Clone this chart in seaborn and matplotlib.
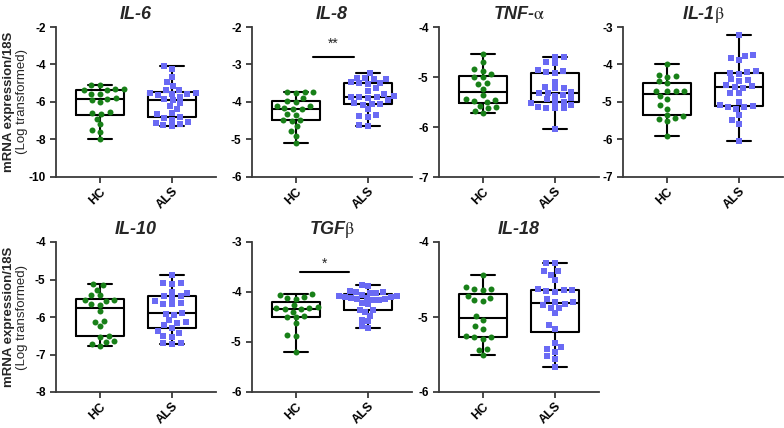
"""Cytokine mRNA expression in HC vs ALS: box plots with individual points."""
import matplotlib
matplotlib.use("Agg")
import matplotlib.pyplot as plt
import numpy as np
import pandas as pd
import seaborn as sns

sns.set_style("ticks")
plt.rcParams["font.family"] = ["Liberation Sans", "DejaVu Sans"]
plt.rcParams["axes.unicode_minus"] = False
plt.rcParams["mathtext.fontset"] = "stix"

GROUPS = ["HC", "ALS"]
HC_COLOR = "#188018"
ALS_COLOR = "#6a6af4"

# log-transformed mRNA expression / 18S
il6_hc = [-5.08, -5.12, -5.3, -5.32, -5.35, -5.38, -5.55, -5.58, -5.8, -5.85,
          -5.88, -6.02, -6.52, -6.58, -6.62, -6.9, -7.2, -7.5, -7.62, -8.0]
il6_als = [-4.1, -4.22, -4.65, -4.92, -5.15, -5.35, -5.38, -5.5, -5.52, -5.55,
           -5.58, -5.62, -5.72, -5.85, -5.9, -6.05, -6.2, -6.35, -6.6, -6.65,
           -6.8, -6.85, -6.95, -7.05, -7.1, -7.2, -7.25, -7.3]

il8_hc = [-3.73, -3.73, -3.74, -3.75, -3.9, -3.98, -4.0, -4.1, -4.12, -4.17,
          -4.19, -4.2, -4.33, -4.35, -4.47, -4.49, -4.52, -4.65, -4.77, -4.9, -5.09]
il8_als = [-3.24, -3.35, -3.37, -3.38, -3.4, -3.48, -3.5, -3.5, -3.52, -3.64,
           -3.7, -3.78, -3.85, -3.86, -3.88, -3.88, -3.9, -3.96, -4.03, -4.05,
           -4.05, -4.07, -4.2, -4.34, -4.38, -4.4, -4.62, -4.65]

tnf_hc = [-4.53, -4.69, -4.84, -4.87, -4.94, -5.0, -5.0, -5.12, -5.13, -5.23,
          -5.35, -5.44, -5.46, -5.48, -5.5, -5.57, -5.6, -5.62, -5.68, -5.72]
tnf_als = [-4.59, -4.6, -4.7, -4.72, -4.85, -4.88, -4.9, -4.92, -5.09, -5.2,
           -5.22, -5.22, -5.3, -5.31, -5.31, -5.36, -5.38, -5.42, -5.44, -5.49,
           -5.5, -5.52, -5.55, -5.6, -5.61, -5.62, -5.62, -6.03]

il1b_hc = [-3.99, -4.28, -4.3, -4.33, -4.45, -4.5, -4.7, -4.7, -4.72, -4.72,
           -4.84, -4.93, -5.09, -5.18, -5.35, -5.38, -5.44, -5.45, -5.52, -5.91]
il1b_als = [-3.22, -3.74, -3.77, -3.83, -3.89, -4.18, -4.2, -4.22, -4.25, -4.38,
            -4.42, -4.45, -4.55, -4.58, -4.6, -4.62, -4.75, -4.76, -5.0, -5.08,
            -5.1, -5.13, -5.14, -5.2, -5.35, -5.48, -5.58, -6.05]

il10_hc = [-5.13, -5.15, -5.27, -5.4, -5.42, -5.54, -5.55, -5.56, -5.66, -5.68,
           -5.85, -6.1, -6.12, -6.25, -6.5, -6.52, -6.63, -6.66, -6.72, -6.78]
il10_als = [-4.88, -5.08, -5.1, -5.12, -5.32, -5.35, -5.43, -5.45, -5.48, -5.58,
            -5.62, -5.64, -5.66, -5.88, -5.92, -5.95, -6.08, -6.12, -6.15, -6.22,
            -6.28, -6.38, -6.42, -6.5, -6.52, -6.68, -6.7, -6.72]

tgfb_hc = [-4.04, -4.05, -4.1, -4.12, -4.14, -4.26, -4.3, -4.31, -4.32, -4.33,
           -4.34, -4.39, -4.47, -4.49, -4.5, -4.62, -4.85, -4.87, -5.19]
tgfb_als = [-3.86, -3.88, -3.98, -4.0, -4.0, -4.01, -4.02, -4.05, -4.07, -4.08,
            -4.09, -4.1, -4.12, -4.12, -4.13, -4.14, -4.15, -4.16, -4.22, -4.24,
            -4.35, -4.36, -4.4, -4.47, -4.55, -4.58, -4.68, -4.71]

il18_hc = [-4.44, -4.6, -4.62, -4.63, -4.64, -4.72, -4.74, -4.77, -4.79, -4.99,
           -5.04, -5.12, -5.16, -5.25, -5.27, -5.27, -5.29, -5.42, -5.44, -5.51]
il18_als = [-4.28, -4.28, -4.39, -4.39, -4.44, -4.51, -4.62, -4.64, -4.64, -4.65,
            -4.66, -4.76, -4.8, -4.8, -4.82, -4.84, -4.88, -4.88, -4.95, -5.1,
            -5.16, -5.34, -5.4, -5.42, -5.46, -5.52, -5.56, -5.67]

# title, HC values, ALS values, y-limits, tick step
PANELS = [
    ("IL-6", il6_hc, il6_als, (-10, -2), 2),
    ("IL-8", il8_hc, il8_als, (-6, -2), 1),
    (r"TNF-$\mathrm{\alpha}$", tnf_hc, tnf_als, (-7, -4), 1),
    (r"IL-1$\mathrm{\beta}$", il1b_hc, il1b_als, (-7, -3), 1),
    ("IL-10", il10_hc, il10_als, (-8, -4), 1),
    (r"TGF$\mathrm{\beta}$", tgfb_hc, tgfb_als, (-6, -3), 1),
    ("IL-18", il18_hc, il18_als, (-6, -4), 1),
]

# significance bars: panel index -> (label, x from, x to, bar y, label y)
SIG = {1: ("**", 0.23, 0.81, -2.8, -2.45), 5: ("*", 0.06, 0.74, -3.6, -3.43)}

W, H = 784, 428
AX_LEFT = [56, 252, 439, 623]
ROW_TOP = [27, 242]
AX_W, AX_H = 160, 150
SPINE = "#3a3a3a"
SPREAD = 1.4      # GraphPad-style looser scatter than a tight swarm
MAX_HALF = 0.36   # keep points roughly inside the box width


def draw_panel(ax, title, hc, als, ylim, step):
    df = pd.DataFrame({
        "group": ["HC"] * len(hc) + ["ALS"] * len(als),
        "value": hc + als,
    })
    sns.boxplot(data=df, x="group", y="value", order=GROUPS, whis=(0, 100),
                width=0.66, fill=False, color="black", linewidth=1.5,
                showfliers=False, ax=ax)
    sns.swarmplot(data=df[df.group == "HC"], x="group", y="value", order=GROUPS,
                  color=HC_COLOR, marker="o", size=4.3, linewidth=0, zorder=3, ax=ax)
    sns.swarmplot(data=df[df.group == "ALS"], x="group", y="value", order=GROUPS,
                  color=ALS_COLOR, marker="s", size=4.3, linewidth=0, zorder=3, ax=ax)

    ax.set_xlim(-0.61, 1.61)
    ax.set_ylim(*ylim)
    ax.set_yticks(np.arange(ylim[0], ylim[1] + step / 2, step))
    ax.set_xlabel("")
    ax.set_ylabel("")
    ax.set_title(title, fontsize=13, fontweight="bold", fontstyle="italic", pad=6)
    for side in ["top", "right"]:
        ax.spines[side].set_visible(False)
    for side in ["left", "bottom"]:
        ax.spines[side].set_color(SPINE)
        ax.spines[side].set_linewidth(1.3)
    ax.tick_params(axis="both", colors=SPINE, width=1.3, length=4, labelcolor="black")
    ax.tick_params(axis="y", labelsize=8.5)
    ax.tick_params(axis="x", labelsize=9, pad=2)
    for lab in ax.get_yticklabels():
        lab.set_fontweight("bold")
    for lab in ax.get_xticklabels():
        lab.set_fontweight("bold")
        lab.set_rotation(45)
        lab.set_ha("right")
        lab.set_rotation_mode("anchor")


def loosen_swarms(fig, axes, factor):
    # swarm positions are computed at draw time; freeze them, then widen
    fig.canvas.draw()
    for ax in axes:
        for coll in ax.collections:
            if "draw" in vars(coll):
                del coll.draw
            off = np.asarray(coll.get_offsets(), dtype=float)
            if len(off):
                centre = np.round(off[:, 0])
                dx = off[:, 0] - centre
                widest = np.abs(dx).max()
                f = factor if widest == 0 else min(factor, MAX_HALF / widest)
                off[:, 0] = centre + dx * max(f, 1.0)
                coll.set_offsets(off)


fig = plt.figure(figsize=(W / 100, H / 100), dpi=100)
axes = []
for i, (title, hc, als, ylim, step) in enumerate(PANELS):
    row, col = divmod(i, 4)
    rect = [AX_LEFT[col] / W, 1 - (ROW_TOP[row] + AX_H) / H, AX_W / W, AX_H / H]
    ax = fig.add_axes(rect)
    draw_panel(ax, title, hc, als, ylim, step)
    if i in SIG:
        label, x0, x1, y, ty = SIG[i]
        ax.plot([x0, x1], [y, y], color="black", lw=1.5, clip_on=False)
        ax.text((x0 + x1) / 2, ty, label, ha="center", va="center", fontsize=10)
    axes.append(ax)

for top in ROW_TOP:
    yc = 1 - (top + AX_H / 2) / H
    fig.text(9 / W, yc, "mRNA expression/18S", rotation=90, ha="center",
             va="center", fontsize=9.5, fontweight="bold")
    fig.text(22 / W, yc, "(Log transformed)", rotation=90, ha="center",
             va="center", fontsize=9.5)

loosen_swarms(fig, axes, SPREAD)
fig.savefig("out.png", dpi=100)
